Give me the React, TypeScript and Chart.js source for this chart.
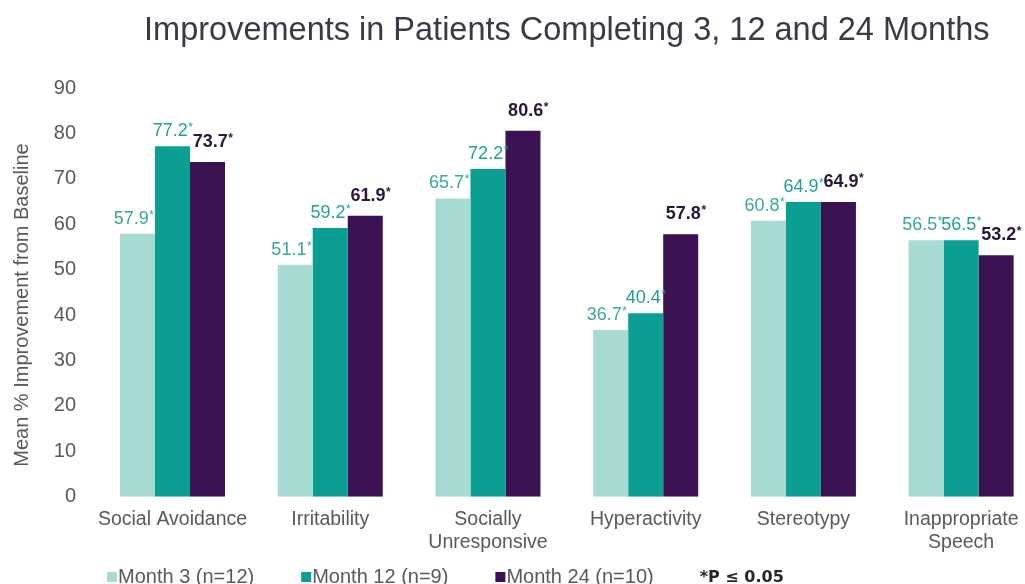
import React, { useEffect, useRef } from 'react';
import { Chart, registerables } from 'chart.js';

Chart.register(...registerables);

const FONT = '"Liberation Sans", Arial, sans-serif';

const chartTitle = 'Improvements in Patients Completing 3, 12 and 24 Months';
const yAxisTitle = 'Mean % Improvement from Baseline';
const categories = [
  ['Social Avoidance'],
  ['Irritability'],
  ['Socially', 'Unresponsive'],
  ['Hyperactivity'],
  ['Stereotypy'],
  ['Inappropriate', 'Speech'],
];
const seriesNames = ['Month 3 (n=12)', 'Month 12 (n=9)', 'Month 24 (n=10)'];
const month3 = [57.9, 51.1, 65.7, 36.7, 60.8, 56.5];
const month12 = [77.2, 59.2, 72.2, 40.4, 64.9, 56.5];
const month24 = [73.7, 61.9, 80.6, 57.8, 64.9, 53.2];
const yMin = 0;
const yMax = 90;
const yStep = 10;
const noteText = '*P \u2264 0.05';

const barColors = ['#a6dad2', '#0b9f94', '#3b1252'];
const labelColors = ['#3aa79d', '#1fa096', '#2b1838'];
const labelDx = [-4, 0, 5];
const labelGap = [10, 10, 15];

const valueLabels = {
  id: 'valueLabels',
  afterDatasetsDraw(chart: any) {
    const ctx = chart.ctx;
    ctx.save();
    chart.data.datasets.forEach((ds: any, di: number) => {
      const meta = chart.getDatasetMeta(di);
      const bold = di === 2;
      const numFont = `${bold ? 'bold ' : ''}18px ${FONT}`;
      const starFont = `${bold ? 'bold ' : ''}12px ${FONT}`;
      meta.data.forEach((bar: any, i: number) => {
        const v = ds.data[i] as number;
        const txt = v.toFixed(1);
        ctx.font = numFont;
        const w1 = ctx.measureText(txt).width;
        ctx.font = starFont;
        const w2 = ctx.measureText('*').width;
        const x0 = bar.x + labelDx[di] - (w1 + w2) / 2;
        const base = bar.y - labelGap[di];
        ctx.fillStyle = labelColors[di];
        ctx.textAlign = 'left';
        ctx.textBaseline = 'alphabetic';
        ctx.font = numFont;
        ctx.fillText(txt, x0, base);
        ctx.font = starFont;
        ctx.fillText('*', x0 + w1 + 0.5, base - 5);
      });
    });
    ctx.restore();
  },
};

const yTitlePlugin = {
  id: 'yTitlePlugin',
  afterDraw(chart: any) {
    const ctx = chart.ctx;
    ctx.save();
    ctx.translate(22, 305);
    ctx.rotate(-Math.PI / 2);
    ctx.font = `20px ${FONT}`;
    ctx.fillStyle = '#595959';
    ctx.textAlign = 'center';
    ctx.textBaseline = 'middle';
    ctx.fillText(yAxisTitle, 0, 0);
    ctx.restore();
  },
};

const bottomLegend = {
  id: 'bottomLegend',
  afterDraw(chart: any) {
    const ctx = chart.ctx;
    ctx.save();
    const baseY = 582.5;
    let x = 107;
    ctx.textAlign = 'left';
    ctx.textBaseline = 'alphabetic';
    ctx.font = `20px ${FONT}`;
    chart.data.datasets.forEach((ds: any, i: number) => {
      ctx.fillStyle = ds.backgroundColor;
      ctx.fillRect(x, 572, 10, 10);
      x += 11;
      ctx.fillStyle = '#595959';
      ctx.fillText(ds.label, x, baseY);
      x += ctx.measureText(ds.label).width + 47;
    });
    ctx.font = 'bold 16px "DejaVu Sans", sans-serif';
    ctx.fillStyle = '#262626';
    ctx.fillText(noteText, x - 1, baseY - 1);
    ctx.restore();
  },
};

export default function App() {
  const ref = useRef<HTMLCanvasElement | null>(null);

  useEffect(() => {
    document.documentElement.style.overflow = 'hidden';
    document.body.style.margin = '0';
    document.body.style.overflow = 'hidden';
    const canvas = ref.current;
    if (!canvas) return;
    const chart = new Chart(canvas, {
      type: 'bar',
      data: {
        labels: categories,
        datasets: [month3, month12, month24].map((d, i) => ({
          label: seriesNames[i],
          data: d,
          backgroundColor: barColors[i],
          borderWidth: 0,
          categoryPercentage: 0.666,
          barPercentage: 1.0,
        })),
      },
      options: {
        responsive: false,
        animation: false,
        devicePixelRatio: 1,
        layout: { padding: { left: 36.2, right: 0, top: 0, bottom: 18.5 } },
        plugins: {
          legend: { display: false },
          tooltip: { enabled: false },
          title: {
            display: true,
            text: chartTitle,
            fullSize: false,
            color: '#3d3845',
            font: { family: FONT, size: 32.5, weight: 'normal' },
            padding: { top: 12, bottom: 37.1 },
          },
        },
        scales: {
          x: {
            grid: { display: false, drawTicks: false },
            border: { display: false },
            ticks: {
              color: '#595959',
              font: { family: FONT, size: 19.5, lineHeight: 1.15 },
              padding: 12,
              maxRotation: 0,
              autoSkip: false,
            },
          },
          y: {
            min: yMin,
            max: yMax,
            grid: { display: false, drawTicks: false },
            border: { display: false },
            ticks: {
              stepSize: yStep,
              color: '#595959',
              font: { family: FONT, size: 20 },
              padding: 17.6,
            },
            title: { display: false, text: yAxisTitle },
          },
        },
      },
      plugins: [valueLabels, yTitlePlugin, bottomLegend],
    });
    return () => chart.destroy();
  }, []);

  return (
    <div style={{ width: 1025, height: 584, overflow: 'hidden', position: 'relative' }}>
      <canvas ref={ref} width={1040} height={584} style={{ display: 'block', width: 1040, height: 584 }} />
    </div>
  );
}
